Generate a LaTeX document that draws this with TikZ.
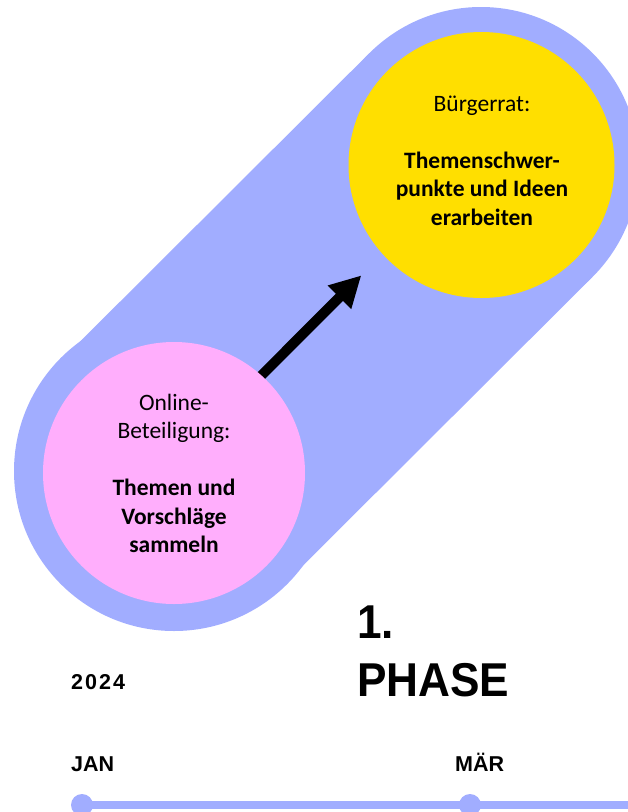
\documentclass[tikz,border=0pt]{standalone}
\usepackage{fontspec}
\setmainfont{Carlito}
\newfontfamily\labfont{Liberation Sans}
\newfontfamily\headfont[FakeStretch=0.93]{Liberation Sans}
\usetikzlibrary{arrows.meta}
\pgfdeclarelayer{pilllayer}
\pgfdeclarelayer{arrowlayer}
\pgfsetlayers{pilllayer,arrowlayer,main}
\definecolor{pillblue}{HTML}{A1ADFF}
\definecolor{pinkfill}{HTML}{FFAEFC}
\definecolor{yellowfill}{HTML}{FFDF00}
\tikzset{
  phasecircle/.style={circle, inner sep=0pt, draw=none},
  circtext/.style={align=center, inner sep=0pt, font=\fontsize{23.5}{28.5}\selectfont},
  smalllab/.style={anchor=base west, inner sep=0pt, font=\labfont\bfseries\fontsize{21.5}{26}\selectfont},
  headlab/.style={anchor=base west, inner sep=0pt, font=\headfont\bfseries\fontsize{47.5}{58}\selectfont},
  bigarrow/.style={line width=10pt, -{Triangle[length=31pt,width=31pt]}},
  dotnode/.style={circle, fill=pillblue, inner sep=0pt, minimum size=22pt},
}
\begin{document}
\begin{tikzpicture}[x=1pt,y=-1pt]
\useasboundingbox (0,0) rectangle (628,812);

% circles (nodes)
\node[phasecircle, fill=pinkfill, minimum size=262pt] (pink) at (174,473) {};
\node[phasecircle, fill=yellowfill, minimum size=266pt] (yellow) at (481.5,165) {};

% pill background
\begin{pgfonlayer}{pilllayer}
  \fill[white] (0,0) rectangle (628,812);
  \fill[pillblue] (174,471) circle (160);
  \fill[pillblue] (481,165) circle (158);
  \draw[pillblue, line width=316pt] (174,471) -- (481,165);
\end{pgfonlayer}

% arrow
\begin{pgfonlayer}{arrowlayer}
  \draw[bigarrow, shorten <=100pt, shorten >=163pt]
    ([shift={(-5,-5)}]pink.center) -- ([shift={(-5,-5)}]yellow.center);
\end{pgfonlayer}

% circle texts
\node[circtext] (pinktext) at (174,473.5)
  {Online-\\Beteiligung:\\[28.5pt]\textbf{Themen und}\\\textbf{Vorschläge}\\\textbf{sammeln}};
\node[circtext] (yellowtext) at (482,160.5)
  {Bürgerrat:\\[28.5pt]\textbf{Themenschwer-}\\\textbf{punkte und Ideen}\\\textbf{erarbeiten}};

% heading
\node[headlab] (one) at (357,638) {1.};
\node[headlab] (phase) at (357,696) {PHASE};

% labels
\node[smalllab] (year) at (71,689) {2\kern2pt0\kern2pt2\kern2pt4};
\node[smalllab] (jan) at (71,771) {JAN};
\node[smalllab] (mar) at (455,771) {MÄR};

% timeline
\coordinate (tlend) at (640,805);
\node[dotnode] (d1) at (82,805) {};
\node[dotnode] (d2) at (470,805) {};
\draw[pillblue, line width=8pt] (d1.center) -- (tlend);
\end{tikzpicture}
\end{document}
